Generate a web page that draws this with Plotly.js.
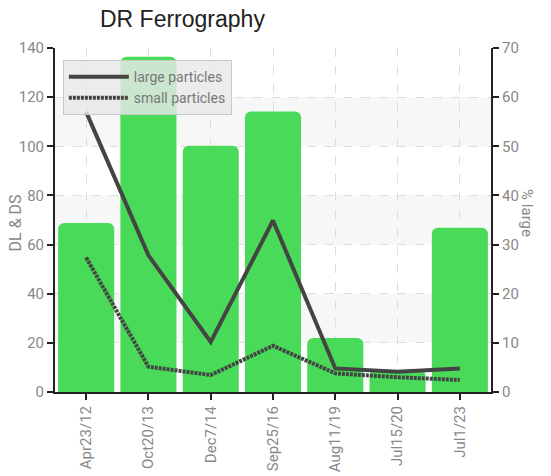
<!DOCTYPE html>
<html>
<head>
<meta charset="utf-8">
<script src="https://cdn.plot.ly/plotly-3.0.1.min.js"></script>
<style>html,body{margin:0;padding:0;background:#fff;}#chart{width:551px;height:476px;}</style>
</head>
<body>
<div id="chart"></div>
<script>
const categories = ['Apr23/12','Oct20/13','Dec7/14','Sep25/16','Aug11/19','Jul15/20','Jul1/23'];
const pctLarge = [34.4, 68.2, 50.1, 57.1, 11, 4.5, 33.4];
const largeParticles = [114, 55.6, 20.4, 69.8, 9.6, 8.2, 9.6];
const smallParticles = [54.7, 10.3, 6.9, 18.8, 7.6, 6, 4.9];
const leftTicks = [0, 20, 40, 60, 80, 100, 120, 140];
const rightTicks = [0, 10, 20, 30, 40, 50, 60, 70];

const FONT = 'Roboto, "Noto Sans", sans-serif';
const LINE = '#444444';
const TICKC = '#888888';

const shapes = [];
for (let i = 1; i < leftTicks.length - 1; i += 2) {
  shapes.push({type:'rect', xref:'paper', yref:'y2', x0:0, x1:1, y0:leftTicks[i], y1:leftTicks[i+1],
    fillcolor:'#f7f7f7', line:{width:0}, layer:'below'});
}

const traces = [
  {type:'bar', x:categories, y:pctLarge, yaxis:'y', showlegend:false,
   marker:{color:'#48da58', cornerradius:6, line:{width:0}}, hoverinfo:'y'},
  {type:'scatter', mode:'lines', name:'large particles', x:categories, y:largeParticles, yaxis:'y2',
   line:{color:LINE, width:4}},
  {type:'scatter', mode:'lines', name:'small particles', x:categories, y:smallParticles, yaxis:'y2',
   line:{color:LINE, width:4, dash:'3px,1px'}}
];

const layout = {
  width:551, height:476,
  margin:{l:55, r:60, t:48, b:84},
  paper_bgcolor:'#ffffff', plot_bgcolor:'#ffffff',
  font:{family:FONT, color:TICKC, size:15},
  title:{text:'DR Ferrography', xref:'container', yref:'container', x:100/551, xanchor:'left',
    y:1-19/476, yanchor:'middle', font:{family:'"Liberation Sans", Arial, sans-serif', size:23, color:'#222222'}},
  bargap:0.1,
  showlegend:true,
  legend:{x:0.018, y:0.965, xanchor:'left', yanchor:'top', bgcolor:'rgba(232,232,232,0.82)',
    bordercolor:'#c8c8c8', borderwidth:1, font:{family:FONT, size:14, color:'#777777'},
    tracegroupgap:0, itemwidth:60},
  xaxis:{type:'category', range:[-0.5, 6.5], showline:true, linecolor:'#222', linewidth:2,
    ticks:'outside', ticklen:6, tickwidth:2, tickcolor:'#222', tickangle:-90,
    showgrid:true, gridcolor:'#dddddd', griddash:'dash', gridwidth:1, zeroline:false,
    tickfont:{family:FONT, size:15, color:TICKC}, fixedrange:true},
  yaxis:{range:[0,70], tickvals:rightTicks, side:'right', showline:true, linecolor:'#222', linewidth:2,
    ticks:'outside', ticklen:6, tickwidth:2, tickcolor:'#222', showgrid:false, zeroline:false,
    tickfont:{family:FONT, size:15, color:TICKC}},
  yaxis2:{range:[0,140], tickvals:leftTicks, overlaying:'y', side:'left', showline:true, linecolor:'#222', linewidth:2,
    ticks:'outside', ticklen:6, tickwidth:2, tickcolor:'#222',
    showgrid:true, gridcolor:'#dddddd', griddash:'dash', gridwidth:1, zeroline:false,
    tickfont:{family:FONT, size:15, color:TICKC}},
  shapes:shapes,
  annotations:[
    {text:'DL &amp; DS', xref:'paper', yref:'paper', x:(15-55)/436, xanchor:'center', y:0.49, yanchor:'middle',
     textangle:-90, showarrow:false, font:{family:FONT, size:16, color:TICKC}},
    {text:'% large', xref:'paper', yref:'paper', x:(527-55)/436, xanchor:'center', y:0.52, yanchor:'middle',
     textangle:90, showarrow:false, font:{family:FONT, size:15, color:TICKC}}
  ]
};

Plotly.newPlot('chart', traces, layout, {displayModeBar:false, responsive:false});
</script>
</body>
</html>
